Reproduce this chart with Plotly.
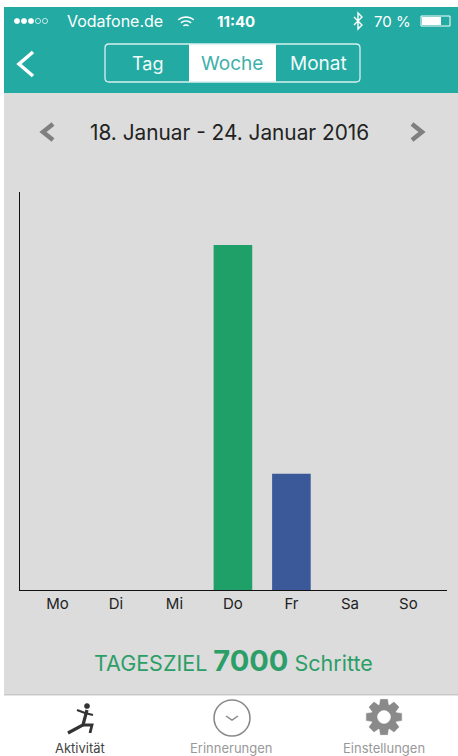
import math
import plotly.graph_objects as go

days = ["Mo", "Di", "Mi", "Do", "Fr", "Sa", "So"]
steps = [0, 0, 0, 9000, 3030, 0, 0]
bar_colors = ["#1FA068", "#1FA068", "#1FA068", "#1FA068", "#3B5998", "#3B5998", "#3B5998"]

W, H = 458, 756
TEAL = "#23AAA3"
BG = "#DCDCDC"
FONT = "Inter, Liberation Sans, Arial, sans-serif"


def px(x):
    return x / W


def py(y):
    return 1 - y / H


shapes = []
ann = []


def rect(x0, y0, x1, y1, fill, line=None, lw=0):
    shapes.append(dict(type="rect", xref="paper", yref="paper", x0=px(x0), x1=px(x1), y0=py(y1), y1=py(y0),
                       fillcolor=fill, line=dict(color=line or fill, width=lw), layer="below"))


def path(points, color, lw=2, fill=None, close=False):
    d = "M " + " L ".join(f"{px(a):.5f},{py(b):.5f}" for a, b in points) + (" Z" if close else "")
    shapes.append(dict(type="path", xref="paper", yref="paper", path=d, fillcolor=fill or "rgba(0,0,0,0)",
                       line=dict(color=color, width=lw), layer="above"))


def circle(cx, cy, r, fill, line, lw=1.5):
    shapes.append(dict(type="circle", xref="paper", yref="paper", x0=px(cx - r), x1=px(cx + r),
                       y0=py(cy + r), y1=py(cy - r), fillcolor=fill, line=dict(color=line, width=lw), layer="above"))


def text(x, y, s, size, color, anchor="center", family=FONT):
    ann.append(dict(xref="paper", yref="paper", x=px(x), y=py(y), text=s, showarrow=False, xanchor=anchor,
                    yanchor="middle", borderpad=0, font=dict(size=size, color=color, family=family)))


def arc(cx, cy, r, a0, a1):
    return [(cx + r * math.cos(math.radians(a)), cy - r * math.sin(math.radians(a)))
            for a in range(a0, a1 + 1, 10)]


# page regions
rect(0, 0, W, H, "#FFFFFF")
rect(4, 7, W, 93, TEAL)
rect(4, 93, W, 695, BG)

# status bar
for i, cx in enumerate([17, 24, 31, 38, 45]):
    circle(cx, 21, 2.6, "#FFFFFF" if i < 3 else "rgba(0,0,0,0)", "#FFFFFF", 0.7)
text(66, 21, "Vodafone.de", 16, "#FFFFFF", "left")
path(arc(186, 29, 12, 50, 130), "#FFFFFF", 1.5)
path(arc(186, 29, 8, 50, 130), "#FFFFFF", 1.5)
path(arc(186, 29, 4, 50, 130), "#FFFFFF", 1.5)
text(236, 21, "<b>11:40</b>", 15, "#FFFFFF")
path([(354, 17), (362, 25), (358, 29), (358, 13), (362, 17), (354, 25)], "#FFFFFF", 1.4)
text(373, 21, "70 %", 15, "#FFFFFF", "left")
rect(421, 16, 450, 26, TEAL, "#FFFFFF", 1)
rect(422, 17, 441, 25, "#FFFFFF")

# navigation
path([(33, 52), (19, 64), (33, 76)], "#FFFFFF", 3.5)
rect(189, 44, 276, 82, "#FFFFFF")
rx = 4 / W
ry = 4 / H
x0, x1, y0, y1 = px(105), px(360), py(82), py(44)
shapes.append(dict(type="path", xref="paper", yref="paper", line=dict(color="#D8F0EE", width=1.3),
                   path=(f"M {x0 + rx},{y1} L {x1 - rx},{y1} Q {x1},{y1} {x1},{y1 - ry} L {x1},{y0 + ry} "
                         f"Q {x1},{y0} {x1 - rx},{y0} L {x0 + rx},{y0} Q {x0},{y0} {x0},{y0 + ry} "
                         f"L {x0},{y1 - ry} Q {x0},{y1} {x0 + rx},{y1} Z")))
text(147, 63, "Tag", 18, "#F2FAFA")
text(232, 63, "Woche", 19, "#3FB0AA")
text(318, 63, "Monat", 19, "#F2FAFA")

# date row
path([(53, 124), (43, 132), (53, 140)], "#7F7F7F", 4.5)
path([(412, 124), (422, 132), (412, 140)], "#7F7F7F", 4.5)
text(229, 132, "18. Januar - 24. Januar 2016", 20.8, "#222222")

# goal
text(233, 660, 'TAGESZIEL <span style="font-size:29px"><b>7000</b></span> Schritte', 21.5, "#2C9E68")

# tab bar
rect(4, 694, W, 695.5, "#C9C9C9")
path([(87, 710), (83, 725), (68, 733)], "#333333", 3.2)
path([(83, 725), (92, 725), (90, 733)], "#333333", 2.8)
path([(77, 710), (85, 713), (93, 715)], "#333333", 2.2)
circle(87, 706, 2.6, "#333333", "#333333", 0.5)
circle(232, 718, 18, "rgba(0,0,0,0)", "#8A8A8A", 1.6)
path([(226, 716), (232, 720), (238, 716)], "#8A8A8A", 1.5)

gear = []
for k in range(8):
    a = k * math.pi / 4
    for da, r in [(-0.34, 13), (-0.2, 18), (0.2, 18), (0.34, 13)]:
        gear.append((384 + r * math.cos(a + da), 717 + r * math.sin(a + da)))
path(gear, "#8A8A8A", 0.5, "#8A8A8A", True)
circle(384, 717, 6.5, "#FFFFFF", "#FFFFFF", 0.5)

text(80, 747.5, "Aktivität", 13, "#444444")
text(232, 747.5, "Erinnerungen", 13, "#999999")
text(384, 747.5, "Einstellungen", 13, "#999999")

fig = go.Figure(go.Bar(x=days, y=steps, marker=dict(color=bar_colors, line=dict(width=0)), width=0.66))
fig.update_layout(
    width=W, height=H, margin=dict(l=0, r=0, t=0, b=0), autosize=False,
    paper_bgcolor="#FFFFFF", plot_bgcolor="rgba(0,0,0,0)", showlegend=False,
    shapes=shapes, annotations=ann, font=dict(family=FONT),
    xaxis=dict(domain=[px(20), px(447)], range=[-0.64, 6.66], type="category", categoryorder="array",
               categoryarray=days, showgrid=False, zeroline=False, showline=True, linecolor="#111111", linewidth=1.3,
               ticks="", tickfont=dict(size=15, color="#222222")),
    yaxis=dict(domain=[py(590), py(192)], range=[0, 10380], showgrid=False, zeroline=False, showline=True,
               linecolor="#111111", linewidth=1.3, ticks="", showticklabels=False),
)
fig.write_html("out.html", config={"displayModeBar": False},
               post_script="document.body.style.margin='0';document.body.style.overflow='hidden';")
